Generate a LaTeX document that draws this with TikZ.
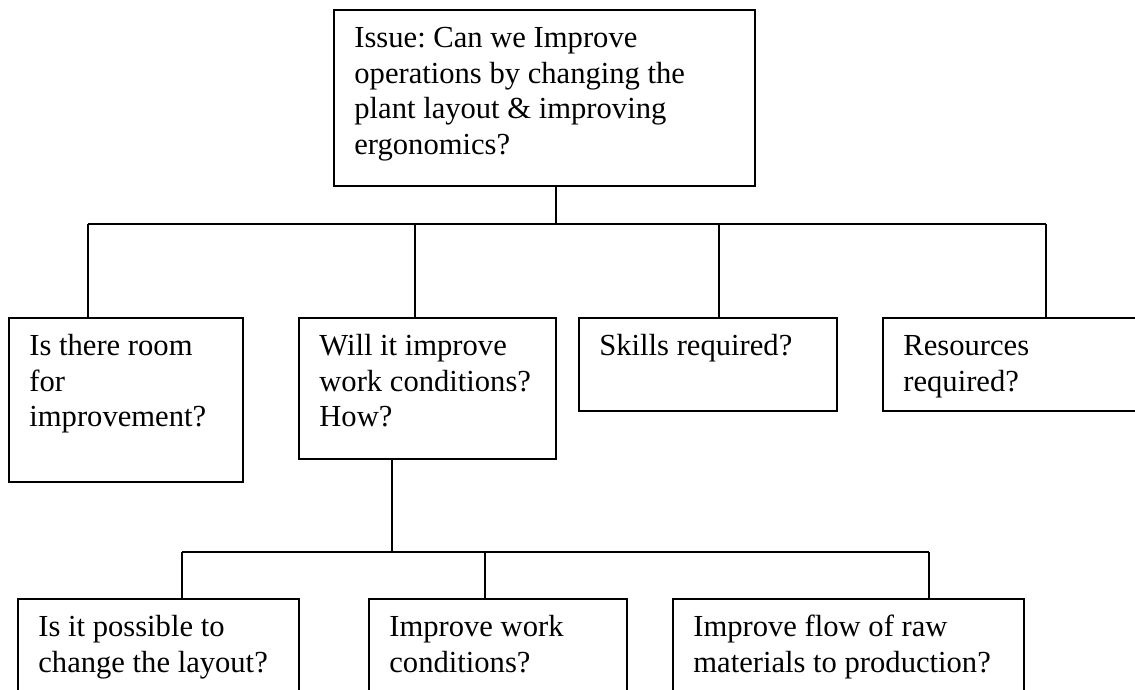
\documentclass[tikz,border=0pt]{standalone}
\usepackage{fontspec}
\setmainfont{Liberation Serif}

% box body: fixed width/height, text set from the top-left corner
\newcommand{\boxbody}[3]{%
  \parbox[c][#2][t]{#1}{\raggedright\frenchspacing\leftskip=20.5pt\relax
    \rule{0pt}{38pt}#3}}

\tikzset{
  qbox/.style={draw, line width=1.8pt, inner sep=0pt, anchor=north west,
    font=\fontsize{30.6}{35.5}\selectfont},
  link/.style={line width=1.8pt}
}

\begin{document}
\begin{tikzpicture}[x=1pt, y=-1pt]
\useasboundingbox (0,0) rectangle (1135,689);
\clip (0,0) rectangle (1135,689);

% root question
\node[qbox] (issue) at (333,9) {\boxbody{421pt}{176pt}{Issue: Can we Improve\\
  operations by changing the\\ plant layout \& improving\\ ergonomics?}};

% first level
\node[qbox] (room) at (8,317) {\boxbody{234pt}{164pt}{Is there room\\ for\\ improvement?}};
\node[qbox] (work) at (298,317) {\boxbody{257pt}{141pt}{Will it improve\\ work conditions?\\ How?}};
\node[qbox] (skills) at (578,317) {\boxbody{258pt}{93pt}{Skills required?}};
\node[qbox] (res) at (882,317) {\boxbody{290pt}{93pt}{Resources\\ required?}};

% second level
\node[qbox] (layout) at (17,598) {\boxbody{281pt}{120pt}{Is it possible to\\ change the layout?}};
\node[qbox] (cond) at (368,598) {\boxbody{258pt}{120pt}{Improve work\\ conditions?}};
\node[qbox] (flow) at (672,598) {\boxbody{351pt}{120pt}{Improve flow of raw\\ materials to production?}};

% upper bus
\coordinate (up) at (556,224);
\coordinate (d1) at (88,224);
\coordinate (d2) at (415,224);
\coordinate (d3) at (719,224);
\coordinate (d4) at (1046,224);
\draw[link] (issue.south -| up) -- (up);
\draw[link] (d1) -- (d4);
\draw[link] (d1) -- (d1 |- room.north);
\draw[link] (d2) -- (d2 |- work.north);
\draw[link] (d3) -- (d3 |- skills.north);
\draw[link] (d4) -- (d4 |- res.north);

% lower bus
\coordinate (lo) at (392,552);
\coordinate (e1) at (182,552);
\coordinate (e2) at (485,552);
\coordinate (e3) at (929,552);
\draw[link] (work.south -| lo) -- (lo);
\draw[link] (e1) -- (e3);
\draw[link] (e1) -- (e1 |- layout.north);
\draw[link] (e2) -- (e2 |- cond.north);
\draw[link] (e3) -- (e3 |- flow.north);
\end{tikzpicture}
\end{document}
